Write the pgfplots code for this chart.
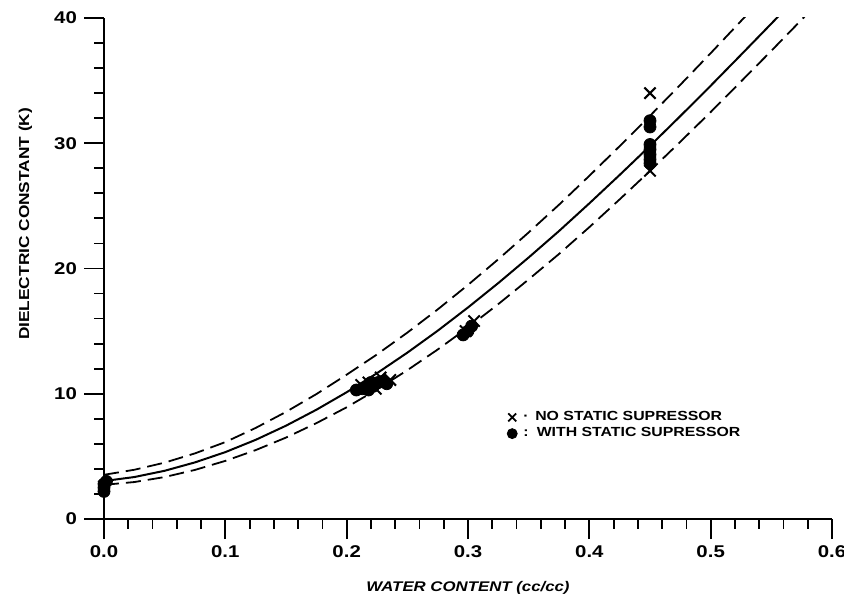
\documentclass[border=0pt]{standalone}
\usepackage{fontspec}
\setmainfont{Liberation Sans}[FakeStretch=1.2]
\usepackage{pgfplots}
\usetikzlibrary{calc}
\pgfplotsset{compat=1.18}
\begin{document}
\begin{tikzpicture}
\begin{axis}[
  scale only axis, width=364pt, height=250.5pt,
  xmin=0, xmax=0.6, ymin=0, ymax=40,
  axis lines*=left,
  axis line style={line width=1.2pt},
  clip mode=individual,
  xtick={0,0.1,0.2,0.3,0.4,0.5,0.6},
  xticklabels={0.0,0.1,0.2,0.3,0.4,0.5,0.6},
  ytick={0,10,20,30,40},
  minor x tick num=4, minor y tick num=4,
  tick align=outside,
  major tick length=10pt, minor tick length=5pt,
  every tick/.style={black, line width=0.9pt},
  /pgf/number format/assume math mode=true,
  tick label style={font=\bfseries\fontsize{8.5}{9}\selectfont},
  xlabel={\itshape WATER CONTENT (cc/cc)},
  ylabel={DIELECTRIC CONSTANT (K)},
  xlabel style={at={(axis description cs:0.5,-0.137)}, anchor=center, font=\bfseries\fontsize{7}{8}\selectfont},
  ylabel style={at={(axis description cs:-0.108,0.589)}, anchor=center, font=\bfseries\fontsize{7.2}{8}\selectfont},
  legend style={at={(axis cs:0.332,8.95)}, anchor=north west, draw=none, fill=none, inner sep=0pt, row sep=-2pt, font=\bfseries\fontsize{6.6}{7}\selectfont},
  legend cell align=left,
]
\coordinate (ll) at (rel axis cs:0,0);
\coordinate (ur) at (rel axis cs:1,1);
\coordinate (o) at (axis cs:0,0);
\coordinate (yb) at (axis cs:0,-1.3);
\coordinate (xl) at (axis cs:-0.016,0);
% solid curve
\addplot[black, line width=1pt, forget plot] coordinates {
(0,3.03)(0.025,3.35)(0.05,3.85)(0.075,4.52)(0.1,5.34)(0.125,6.32)(0.15,7.45)(0.175,8.72)(0.2,10.12)(0.225,11.64)(0.25,13.28)(0.275,15.03)(0.3,16.89)(0.325,18.84)(0.35,20.88)(0.375,22.99)(0.4,25.20)(0.425,27.47)(0.45,29.79)(0.475,32.17)(0.5,34.59)(0.525,37.06)(0.55,39.55)(0.575,42.07)};
% upper dashed
\addplot[black, line width=0.9pt, dash pattern=on 7.5pt off 3.5pt, forget plot] coordinates {
(0,3.53)(0.025,3.93)(0.05,4.50)(0.075,5.24)(0.1,6.14)(0.125,7.27)(0.15,8.55)(0.175,9.97)(0.2,11.52)(0.225,13.14)(0.25,14.88)(0.275,16.73)(0.3,18.69)(0.325,20.74)(0.35,22.88)(0.375,25.09)(0.4,27.40)(0.425,29.77)(0.45,32.19)(0.475,34.67)(0.5,37.19)(0.525,39.76)(0.55,42.35)};
% lower dashed
\addplot[black, line width=0.9pt, dash pattern=on 7.5pt off 3.5pt, forget plot] coordinates {
(0,2.73)(0.025,2.95)(0.05,3.35)(0.075,3.92)(0.1,4.64)(0.125,5.50)(0.15,6.50)(0.175,7.65)(0.2,8.92)(0.225,10.34)(0.25,11.88)(0.275,13.53)(0.3,15.29)(0.325,17.16)(0.35,19.13)(0.375,21.16)(0.4,23.30)(0.425,25.52)(0.45,27.79)(0.475,30.12)(0.5,32.49)(0.525,34.93)(0.55,37.38)(0.575,39.87)(0.6,42.37)};
% with static suppressor (filled circles)
\addplot[only marks, mark=*, mark size=3pt, black, forget plot] coordinates {
(0,2.2)(0,2.5)(0,2.8)(0.002,3.0)
(0.208,10.3)(0.213,10.4)(0.218,10.3)(0.222,10.6)(0.226,10.9)(0.230,11.0)(0.233,10.8)(0.220,10.9)
(0.296,14.7)(0.300,15.0)(0.303,15.4)
(0.45,31.8)(0.45,31.3)(0.45,29.9)(0.45,29.5)(0.45,29.1)(0.45,28.7)(0.45,28.4)};
% no static suppressor (crosses)
\addplot[only marks, mark=x, mark size=4pt, line width=1pt, black, forget plot] coordinates {
(0,2.6)
(0.212,10.7)(0.218,10.9)(0.228,11.3)(0.236,11.1)(0.224,10.4)
(0.298,15.0)(0.305,15.8)
(0.45,34.0)(0.45,29.3)(0.45,27.8)};
\addlegendimage{only marks, mark=x, mark size=2.8pt, line width=0.9pt, black}
\addlegendentry{\,·\, NO STATIC SUPRESSOR}
\addlegendimage{only marks, mark=*, mark size=2.5pt, black}
\addlegendentry{\,:\, WITH STATIC SUPRESSOR}
\end{axis}
\draw[line width=1.2pt] (o) -- (yb);
\draw[line width=1.2pt] (o) -- (xl);
\pgfresetboundingbox
\path ($(ll)+(-52pt,-39.5pt)$) rectangle ($(ur)+(6pt,9pt)$);
\end{tikzpicture}
\end{document}
